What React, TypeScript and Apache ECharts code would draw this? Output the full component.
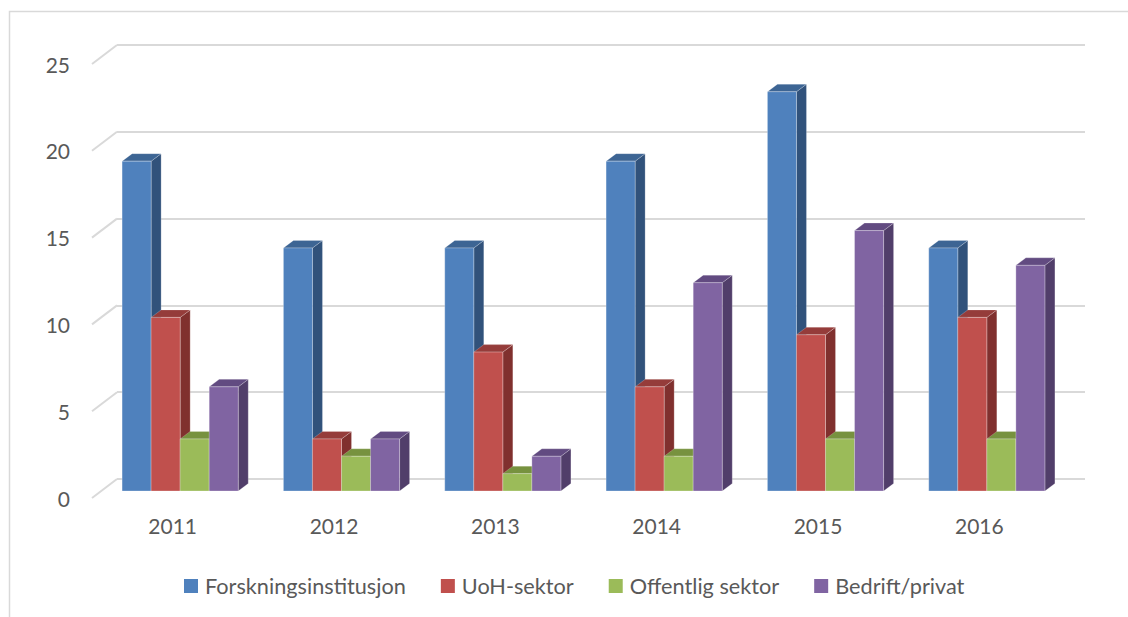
import React, { useEffect, useRef } from "react";
import * as echarts from "echarts";

const years = ["2011", "2012", "2013", "2014", "2015", "2016"];
const seriesNames = ["Forskningsinstitusjon", "UoH-sektor", "Offentlig sektor", "Bedrift/privat"];
const forskning = [19, 14, 14, 19, 23, 14];
const uoh = [10, 3, 8, 6, 9, 10];
const offentlig = [3, 2, 1, 2, 3, 3];
const bedrift = [6, 3, 2, 12, 15, 13];
const yTicks = [0, 5, 10, 15, 20, 25];

const seriesValues = [forskning, uoh, offentlig, bedrift];
const frontColors = ["#4f81bd", "#c0504d", "#9bbb59", "#8064a2"];
const sideColors = ["#31527b", "#80302e", "#6f8a3c", "#513e6a"];
const topColors = ["#3d6594", "#953c3a", "#77923f", "#624b81"];

const FONT = "Lato, 'Open Sans', sans-serif";
const TEXT = "#595959";
const GRID = "#d9d9d9";

export default function App() {
  const ref = useRef<HTMLDivElement>(null);
  useEffect(() => {
    document.body.style.margin = "0";
    const chart = echarts.init(ref.current!, null, { renderer: "svg" });
    const FDX = -17.5;
    const FDY = 12;
    const DX = 10;
    const DY = -7.5;

    const barSeries = seriesValues.map((vals, s) => ({
      type: "custom",
      name: seriesNames[s],
      xAxisIndex: 0,
      yAxisIndex: 0,
      itemStyle: { color: frontColors[s] },
      data: vals.map((v, i) => [i, v]),
      renderItem: (params: any, api: any) => {
        const cat = api.value(0);
        const v = api.value(1);
        const base = api.coord([cat, 0]);
        const top = api.coord([cat, v]);
        const band = api.size([1, 0])[0];
        const bw = band * 0.18;
        const x0 = base[0] - 2 * bw + s * bw + FDX;
        const x1 = x0 + bw;
        const yb = base[1] + FDY;
        const yt = top[1] + FDY;
        const edge = "rgba(255,255,255,0.35)";
        return {
          type: "group",
          children: [
            {
              type: "polygon",
              shape: { points: [[x1, yt], [x1 + DX, yt + DY], [x1 + DX, yb + DY], [x1, yb]] },
              style: { fill: sideColors[s], stroke: edge, lineWidth: 0.6 },
            },
            {
              type: "polygon",
              shape: { points: [[x0, yt], [x0 + DX, yt + DY], [x1 + DX, yt + DY], [x1, yt]] },
              style: { fill: topColors[s], stroke: edge, lineWidth: 0.6 },
            },
            {
              type: "rect",
              shape: { x: x0, y: yt, width: bw, height: yb - yt },
              style: { fill: frontColors[s], stroke: edge, lineWidth: 0.8 },
            },
          ],
        };
      },
    }));

    const tickSeries = {
      type: "custom",
      name: "ticks",
      xAxisIndex: 0,
      yAxisIndex: 0,
      silent: true,
      data: yTicks.map((v) => [0, v]),
      renderItem: (params: any, api: any) => {
        const p = api.coord([0, api.value(1)]);
        const x = params.coordSys.x;
        return {
          type: "line",
          shape: { x1: x, y1: p[1], x2: x - 25, y2: p[1] + 19 },
          style: { stroke: GRID, lineWidth: 2 },
        };
      },
    };

    chart.setOption({
      animation: false,
      textStyle: { fontFamily: FONT },
      graphic: [
        {
          type: "rect",
          left: 7,
          top: 9,
          shape: { width: 1140, height: 640 },
          style: { fill: "none", stroke: GRID, lineWidth: 1.5 },
          silent: true,
        },
      ],
      grid: [
        { left: 117, right: 43, top: 45, bottom: 138 },
        { left: 92, right: 68, top: 64, bottom: 119 },
      ],
      xAxis: [
        {
          type: "category",
          gridIndex: 0,
          data: years,
          show: false,
        },
        {
          type: "category",
          gridIndex: 1,
          data: years,
          axisLine: { show: false },
          axisTick: { show: false },
          axisLabel: { color: TEXT, fontSize: 21, fontFamily: FONT, margin: 17 },
        },
      ],
      yAxis: [
        {
          type: "value",
          gridIndex: 0,
          min: 0,
          max: 25,
          interval: 5,
          axisLine: { show: false },
          axisTick: { show: false },
          axisLabel: { show: false },
          splitLine: { show: true, lineStyle: { color: GRID, width: 2 } },
        },
        {
          type: "value",
          gridIndex: 1,
          min: 0,
          max: 25,
          interval: 5,
          axisLine: { show: false },
          axisTick: { show: false },
          splitLine: { show: false },
          axisLabel: { color: TEXT, fontSize: 21, fontFamily: FONT, margin: 22 },
        },
      ],
      legend: {
        data: seriesNames.map((n, i) => ({ name: n, icon: "rect", itemStyle: { color: frontColors[i] } })),
        left: 184,
        top: 575,
        padding: 0,
        itemWidth: 14,
        itemHeight: 14,
        itemGap: 35,
        textStyle: { color: TEXT, fontSize: 21.7, fontFamily: FONT, padding: [0, 0, 0, 2] },
        selectedMode: false,
      },
      series: [tickSeries, ...barSeries],
    });
    return () => chart.dispose();
  }, []);
  return <div ref={ref} style={{ width: 1128, height: 617 }} />;
}
